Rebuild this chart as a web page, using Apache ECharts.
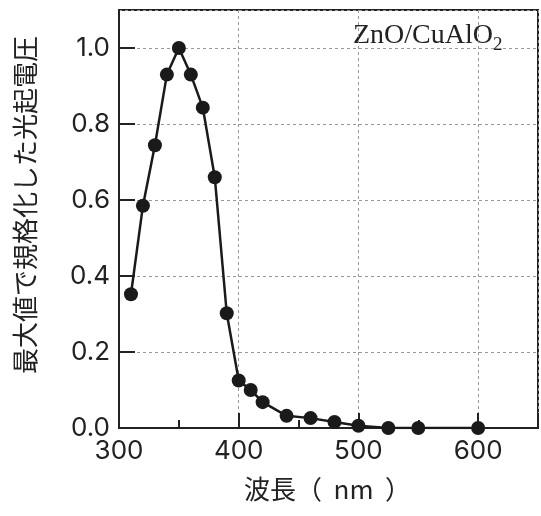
<!DOCTYPE html>
<html>
<head>
<meta charset="utf-8">
<script src="https://cdn.jsdelivr.net/npm/echarts@6/dist/echarts.min.js"></script>
<style>
  html, body { margin: 0; padding: 0; background: #fff; }
  #chart { width: 541px; height: 516px; }
</style>
</head>
<body>
<div id="chart"></div>
<script>
// 波長 (nm) と最大値で規格化した光起電圧
var wavelengths = [310, 320, 330, 340, 350, 360, 370, 380, 390, 400, 410, 420, 440, 460, 480, 500, 525, 550, 600];
var voltages = [0.352, 0.585, 0.744, 0.93, 1.0, 0.93, 0.843, 0.66, 0.302, 0.125, 0.10, 0.068, 0.032, 0.026, 0.016, 0.006, 0.0, 0.0, 0.0];
var xTicks = [300, 400, 500, 600];
var yTicks = [0.0, 0.2, 0.4, 0.6, 0.8, 1.0];

var points = wavelengths.map(function (w, i) { return [w, voltages[i]]; });

var chart = echarts.init(document.getElementById('chart'));
var font = 'Noto Sans CJK JP';
var numFont = 'Inter';
var serif = 'Liberation Serif';

chart.setOption({
    animation: false,
    backgroundColor: '#fff',
    grid: {
        left: 119, right: 3, top: 10, bottom: 88,
        show: true, borderColor: '#222', borderWidth: 2, backgroundColor: 'transparent'
    },
    xAxis: {
        type: 'value',
        min: 300, max: 650, interval: 100,
        name: '波長（  nm  ）',
        nameLocation: 'middle',
        nameGap: 48,
        nameTextStyle: { fontFamily: font, fontSize: 26, color: '#222', padding: [0, 2, 0, 0] },
        axisLine: { show: true, lineStyle: { color: '#222', width: 2 } },
        axisTick: { show: true, inside: true, length: 15, lineStyle: { color: '#222', width: 2 } },
        minorTick: { show: true, splitNumber: 2, length: 8, lineStyle: { color: '#222', width: 2 } },
        axisLabel: {
            fontFamily: numFont, fontSize: 26, color: '#222', margin: 10,
            showMaxLabel: false,
            formatter: function (v) { return xTicks.indexOf(v) >= 0 ? String(v) : ''; }
        },
        splitLine: { show: true, lineStyle: { color: '#999', type: [3, 3], width: 1 } }
    },
    yAxis: {
        type: 'value',
        min: 0, max: 1.1, interval: 0.2,
        name: '最大値で規格化した光起電圧',
        nameLocation: 'middle',
        nameRotate: 90,
        nameGap: 81,
        nameTextStyle: { fontFamily: font, fontSize: 26, color: '#222', padding: [0, 0, 0, 28] },
        axisLine: { show: true, lineStyle: { color: '#222', width: 2 } },
        axisTick: { show: true, inside: true, length: 16, lineStyle: { color: '#222', width: 2 } },
        axisLabel: {
            fontFamily: numFont, fontSize: 26, color: '#222', margin: 9,
            showMaxLabel: false,
            formatter: function (v) {
                var r = Math.round(v * 10) / 10;
                return yTicks.indexOf(r) >= 0 ? r.toFixed(1) : '';
            }
        },
        splitLine: { show: true, lineStyle: { color: '#999', type: [3, 3], width: 1 } }
    },
    graphic: [
        {
            type: 'group', left: 353, top: 22,
            children: [
                { type: 'text', x: 0, y: 0, style: { text: 'ZnO/CuAlO', fontFamily: serif, fontSize: 28, fill: '#222' } },
                { type: 'text', x: 140, y: 14, style: { text: '2', fontFamily: serif, fontSize: 19, fill: '#222' } }
            ]
        }
    ],
    series: [{
        type: 'line',
        data: points,
        symbol: 'circle',
        symbolSize: 14,
        lineStyle: { color: '#1a1a1a', width: 2.5 },
        itemStyle: { color: '#1a1a1a' }
    }]
});
</script>
</body>
</html>
